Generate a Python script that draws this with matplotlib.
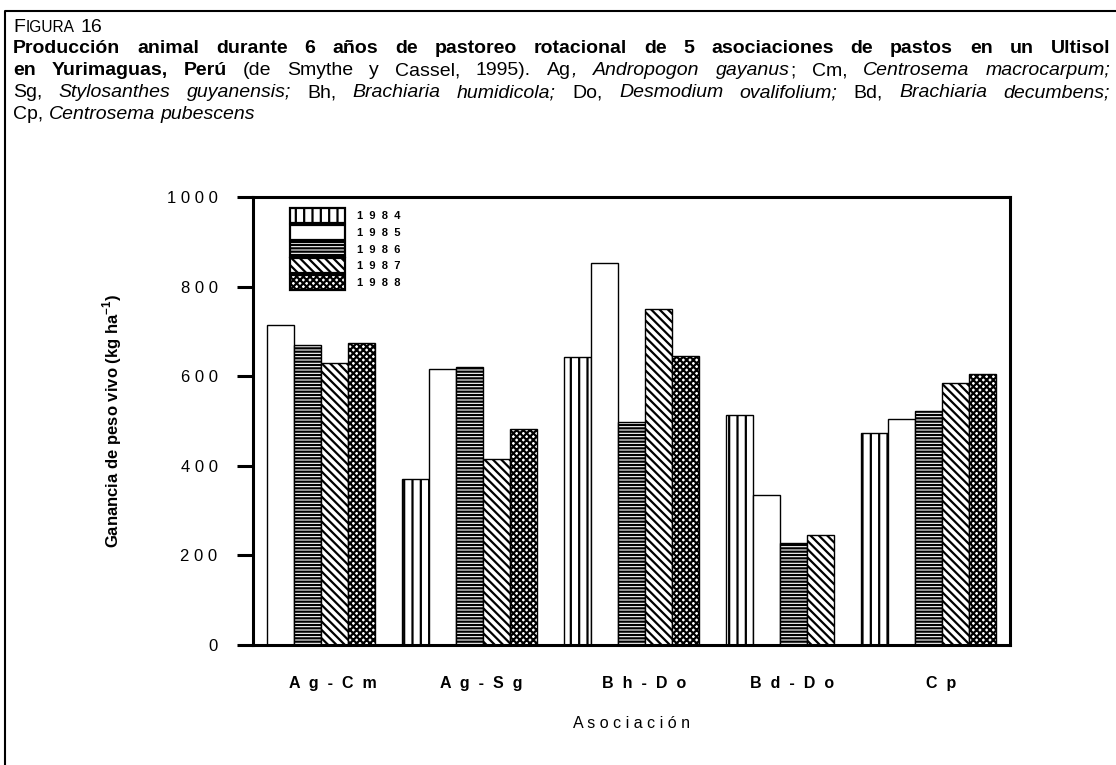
import matplotlib
matplotlib.use('Agg')
import matplotlib.pyplot as plt
from matplotlib.lines import Line2D

plt.rcParams['font.family'] = ['Liberation Sans', 'DejaVu Sans']
plt.rcParams['mathtext.fontset'] = 'custom'
plt.rcParams['mathtext.rm'] = 'Liberation Sans'
plt.rcParams['mathtext.bf'] = 'Liberation Sans:bold'
plt.rcParams['hatch.linewidth'] = 1.6
plt.rcParams['hatch.color'] = 'black'

# data (kg/ha), None = no bar
groups = ['Ag-Cm', 'Ag-Sg', 'Bh-Do', 'Bd-Do', 'Cp']
years = ['1984', '1985', '1986', '1987', '1988']
gain_1984 = [None, 371, 643, 514, 473]
gain_1985 = [714, 616, 853, 335, 504]
gain_1986 = [670, 620, 497, 228, 522]
gain_1987 = [629, 416, 751, 245, 585]
gain_1988 = [675, 483, 644, None, 604]
series = [gain_1984, gain_1985, gain_1986, gain_1987, gain_1988]
hatches = ['||', '', '-----', '\\\\\\\\', 'xxxxx']

W, H = 1116, 765
fig = plt.figure(figsize=(W / 100, H / 100), dpi=100)
ax = fig.add_axes([253 / W, 1 - 645 / H, 757 / W, 448 / H])

# bars sit side by side, a missing year takes no room, one empty slot between groups
xs = [[] for _ in years]
hs = [[] for _ in years]
centers = []
pos = 0.5
for gi in range(len(groups)):
    start = pos
    for yi in range(len(years)):
        v = series[yi][gi]
        if v is None:
            continue
        xs[yi].append(pos)
        hs[yi].append(v)
        pos += 1
    centers.append((start + pos) / 2 + 0.45)
    pos += 1

for yi, year in enumerate(years):
    ax.bar(xs[yi], hs[yi], width=1, align='edge', color='white',
           edgecolor='black', linewidth=1.0, hatch=hatches[yi],
           label='  '.join(year))

ax.set_xlim(0, pos - 0.5)
ax.set_ylim(0, 1000)
for s in ax.spines.values():
    s.set_linewidth(2.2)

yt = list(range(0, 1001, 200))
ax.set_yticks(yt, [' '.join(str(v)) for v in yt])
ax.tick_params(axis='y', length=11.5, width=2.2, pad=14, labelsize=12)
ax.set_xticks(centers, ['  '.join(g) for g in groups])
ax.tick_params(axis='x', length=0, pad=22, labelsize=11.5)
for lab in ax.get_xticklabels():
    lab.set_fontweight('bold')

ax.set_xlabel(' '.join('Asociación'), fontsize=11.5, labelpad=18)
ax.set_ylabel(r'Ganancia de peso vivo (kg ha$^{\mathbf{-1}}$)', fontsize=12,
              fontweight='bold')
ax.yaxis.set_label_coords(-0.171, 0.5)

leg = ax.legend(loc='upper left', bbox_to_anchor=(0.049, 0.975), frameon=False,
                prop={'weight': 'bold', 'size': 8}, handlelength=4.9,
                handleheight=1.7, labelspacing=0.15, handletextpad=1.1,
                borderpad=0, borderaxespad=0)
for p in leg.get_patches():
    p.set_linewidth(1.6)

# frame around the figure block (only top and left visible)
fig.add_artist(Line2D([5 / W, 5 / W, 1], [0, 1 - 11 / H, 1 - 11 / H],
                      transform=fig.transFigure, color='black', lw=1.5))

# caption, word by word so that bold/italic can be mixed and lines justified
FS = 14
styles = {
    'r': dict(fontsize=FS),
    'b': dict(fontsize=FS, fontweight='bold'),
    'i': dict(fontsize=FS, style='italic'),
    's': dict(fontsize=FS * 0.8),
}
renderer = fig.canvas.get_renderer()


def ink_width(s, st):
    t = fig.text(0, 0, s, **styles[st])
    w = t.get_window_extent(renderer).width
    t.remove()
    return w


def write_line(words, y, justify, x0=13, x1=1110):
    wws = [sum(ink_width(s, st) for s, st in wd) + len(wd) - 1 for wd in words]
    gap = ink_width('a a', 'r') - 2 * ink_width('a', 'r')
    if justify:
        gap = (x1 - x0 - sum(wws)) / (len(words) - 1)
    x = x0
    for wd, ww in zip(words, wws):
        xp = x
        for s, st in wd:
            fig.text(xp / W, 1 - y / H, s, va='baseline', **styles[st])
            xp += ink_width(s, st) + 1
        x += ww + gap


def plain(text, st):
    return [[(w, st)] for w in text.split()]


write_line([[('F', 'r'), ('IGURA', 's')], [('16', 'r')]], 32, False)
write_line(plain('Producción animal durante 6 años de pastoreo rotacional de 5 '
                 'asociaciones de pastos en un Ultisol', 'b'), 53, True)
write_line(plain('en Yurimaguas, Perú', 'b') + plain('(de Smythe y Cassel, 1995).', 'r')
           + [[('Ag', 'r'), (',', 'i')], [('Andropogon', 'i')],
              [('gayanus', 'i'), (';', 'r')], [('Cm,', 'r')]]
           + plain('Centrosema macrocarpum;', 'i'), 75, True)
write_line([[('Sg,', 'r')]] + plain('Stylosanthes guyanensis;', 'i') + [[('Bh,', 'r')]]
           + plain('Brachiaria humidicola;', 'i') + [[('Do,', 'r')]]
           + plain('Desmodium ovalifolium;', 'i') + [[('Bd,', 'r')]]
           + plain('Brachiaria decumbens;', 'i'), 97, True)
write_line([[('Cp,', 'r')]] + plain('Centrosema pubescens', 'i'), 119, False)

fig.savefig('out.png', dpi=100)
